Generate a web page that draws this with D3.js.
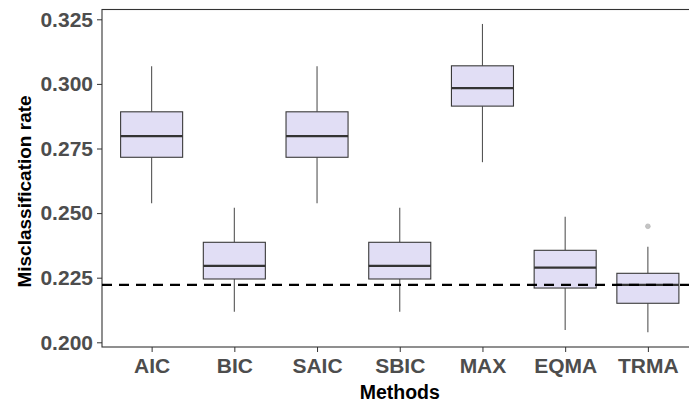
<!DOCTYPE html>
<html>
<head>
<meta charset="utf-8">
<script src="https://cdn.jsdelivr.net/npm/d3@7"></script>
<style>
  body { margin: 0; background: #fff; }
  svg { display: block; font-family: "Liberation Sans", Arial, sans-serif; }
  .axis text { font-weight: bold; fill: #4d4d4d; font-size: 21px; }
  .axis line { stroke: #333; }
  .axis path { display: none; }
</style>
</head>
<body>
<div id="chart"></div>
<script>
// box statistics
var methods = ["AIC", "BIC", "SAIC", "SBIC", "MAX", "EQMA", "TRMA"];
var whiskerLow  = [0.2538, 0.2118, 0.2538, 0.2118, 0.2697, 0.2048, 0.2039];
var q1          = [0.2716, 0.2245, 0.2716, 0.2245, 0.2914, 0.2210, 0.2151];
var median      = [0.2798, 0.2296, 0.2798, 0.2296, 0.2984, 0.2289, 0.2222];
var q3          = [0.2892, 0.2387, 0.2892, 0.2387, 0.3070, 0.2356, 0.2267];
var whiskerHigh = [0.3068, 0.2521, 0.3068, 0.2521, 0.3232, 0.2486, 0.2370];
var outliers = [{method: "TRMA", value: 0.2449}];
var refLine = 0.2222;
var yTicks = [0.200, 0.225, 0.250, 0.275, 0.300, 0.325];

var width = 689, height = 405;
var panel = {left: 102, top: 9.5, right: 697.5, bottom: 347};

var svg = d3.select("#chart").append("svg")
  .attr("width", width)
  .attr("height", height);

var x = d3.scalePoint()
  .domain(methods)
  .range([panel.left, panel.right])
  .padding(0.6);

var y = d3.scaleLinear()
  .domain([0.200, 0.325])
  .range([342.3, 19.3]);

var boxW = x.step() * 0.75;

//panel border
svg.append("rect")
  .attr("x", panel.left)
  .attr("y", panel.top)
  .attr("width", panel.right - panel.left)
  .attr("height", panel.bottom - panel.top)
  .attr("fill", "none")
  .attr("stroke", "#333")
  .attr("stroke-width", 1.1);

var boxes = methods.map(function(m, i) {
  return {m: m, lo: whiskerLow[i], q1: q1[i], med: median[i], q3: q3[i], hi: whiskerHigh[i]};
});

var g = svg.selectAll(".box").data(boxes).enter().append("g").attr("class", "box");

// whiskers
g.append("line")
  .attr("x1", function(d) { return x(d.m); })
  .attr("x2", function(d) { return x(d.m); })
  .attr("y1", function(d) { return y(d.q3); })
  .attr("y2", function(d) { return y(d.hi); })
  .attr("stroke", "#555").attr("stroke-width", 1.1);
g.append("line")
  .attr("x1", function(d) { return x(d.m); })
  .attr("x2", function(d) { return x(d.m); })
  .attr("y1", function(d) { return y(d.q1); })
  .attr("y2", function(d) { return y(d.lo); })
  .attr("stroke", "#555").attr("stroke-width", 1.1);

g.append("rect")
  .attr("x", function(d) { return x(d.m) - boxW / 2; })
  .attr("y", function(d) { return y(d.q3); })
  .attr("width", boxW)
  .attr("height", function(d) { return y(d.q1) - y(d.q3); })
  .attr("fill", "#e1def5")
  .attr("stroke", "#3a3a3a")
  .attr("stroke-width", 1.1);

g.append("line")
  .attr("x1", function(d) { return x(d.m) - boxW / 2; })
  .attr("x2", function(d) { return x(d.m) + boxW / 2; })
  .attr("y1", function(d) { return y(d.med); })
  .attr("y2", function(d) { return y(d.med); })
  .attr("stroke", "#333")
  .attr("stroke-width", 2.2);

svg.selectAll(".outlier").data(outliers).enter().append("circle")
  .attr("cx", function(d) { return x(d.method); })
  .attr("cy", function(d) { return y(d.value); })
  .attr("r", 2.4)
  .attr("fill", "#c4c4c4")
  .attr("stroke", "#b0b0b0")
  .attr("stroke-width", 0.6);

// dashed reference line
svg.append("line")
  .attr("x1", panel.left)
  .attr("x2", panel.right)
  .attr("y1", y(refLine))
  .attr("y2", y(refLine))
  .attr("stroke", "#000")
  .attr("stroke-width", 2.2)
  .attr("stroke-dasharray", "10,7");

//axes
svg.append("g")
  .attr("class", "axis")
  .attr("transform", "translate(" + panel.left + ",0)")
  .call(d3.axisLeft(y).tickValues(yTicks).tickFormat(d3.format(".3f")).tickSize(5).tickPadding(4));

svg.append("g")
  .attr("class", "axis")
  .attr("transform", "translate(0," + panel.bottom + ")")
  .call(d3.axisBottom(x).tickSize(5).tickPadding(6));

svg.append("text")
  .attr("x", (panel.left + panel.right) / 2)
  .attr("y", 399)
  .attr("text-anchor", "middle")
  .style("font-size", "19.5px")
  .style("font-weight", "bold")
  .text("Methods");

svg.append("text")
  .attr("transform", "translate(30.5,191.5) rotate(-90)")
  .attr("text-anchor", "middle")
  .style("font-size", "19px")
  .style("font-weight", "bold")
  .text("Misclassification rate");
</script>
</body>
</html>
